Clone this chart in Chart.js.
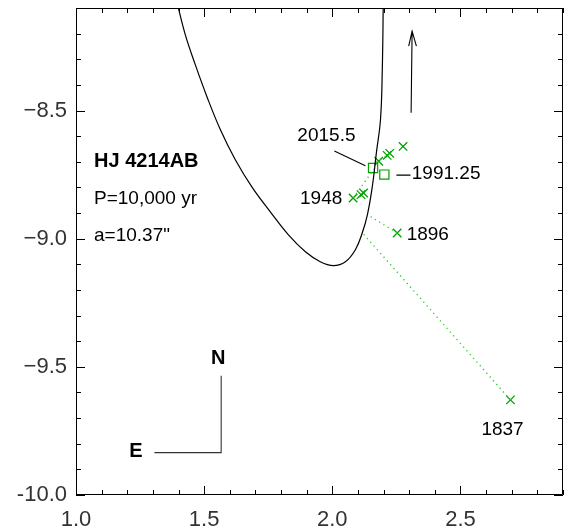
<!DOCTYPE html>
<html>
<head>
<meta charset="utf-8">
<script src="https://cdn.jsdelivr.net/npm/chart.js@4"></script>
<style>
  body { margin: 0; background: #fff; }
</style>
</head>
<body>
<canvas id="myChart" width="564" height="529"></canvas>
<script>
// tick labels
let xTickValues = [1.0, 1.5, 2.0, 2.5];
let xTickLabels = ['1.0', '1.5', '2.0', '2.5'];
let yTickValues = [-8.5, -9.0, -9.5, -10.0];
let yTickLabels = ['\u22128.5', '\u22129.0', '\u22129.5', '-10.0'];

// orbit
let orbitX = [1.391, 1.426, 1.465, 1.512, 1.563, 1.621, 1.688, 1.758, 1.828, 1.895, 1.953,
  2.004, 2.051, 2.090, 2.117, 2.137, 2.156, 2.172, 2.188, 2.195, 2.199];
let orbitY = [-8.066, -8.203, -8.320, -8.449, -8.574, -8.691, -8.801, -8.895, -8.984, -9.051, -9.090,
  -9.105, -9.090, -9.043, -8.977, -8.906, -8.797, -8.664, -8.535, -8.340, -8.066];

// visual measures (x marks)
let obsX = [2.695, 2.253, 2.081, 2.112, 2.122, 2.181, 2.214, 2.224, 2.276];
let obsY = [-9.629, -8.978, -8.841, -8.828, -8.822, -8.698, -8.675, -8.667, -8.640];

// speckle measures (squares)
let speckleX = [2.159, 2.203];
let speckleY = [-8.724, -8.750];

// residuals: measure -> orbit position
let residFromX = [2.695, 2.253, 2.081, 2.224];
let residFromY = [-9.629, -8.978, -8.841, -8.667];
let residToX = [2.117, 2.137, 2.163, 2.172];
let residToY = [-8.977, -8.906, -8.728, -8.700];

// motion arrow
let arrowX = [2.3074, 2.3113, null, 2.2980, 2.3113, 2.3281];
let arrowY = [-8.5090, -8.1902, null, -8.2488, -8.1902, -8.2488];

// N / E compass
let compassX = [1.3059, 1.5664, 1.5664];
let compassY = [-9.8348, -9.8348, -9.5352];

// leader lines for the year labels
let leaderX = [2.008, 2.129, null, 2.250, 2.305];
let leaderY = [-8.658, -8.715, null, -8.752, -8.752];

let green = '#00a000';

function toPoints(xs, ys) {
  let pts = [];
  for (let i = 0; i < xs.length; i++) {
    pts.push({ x: xs[i], y: ys[i] });
  }
  return pts;
}

function segments(x1, y1, x2, y2) {
  let pts = [];
  for (let i = 0; i < x1.length; i++) {
    pts.push({ x: x1[i], y: y1[i] });
    pts.push({ x: x2[i], y: y2[i] });
    pts.push({ x: x2[i], y: null });
  }
  return pts;
}

// text notes, placed in data units
let notes = [
  { text: 'HJ 4214AB', x: 1.0703, y: -8.700, align: 'left', bold: true },
  { text: 'P=10,000 yr', x: 1.0703, y: -8.846, align: 'left' },
  { text: 'a=10.37"', x: 1.0703, y: -8.990, align: 'left' },
  { text: '2015.5', x: 1.977, y: -8.598, align: 'center' },
  { text: '1991.25', x: 2.310, y: -8.747, align: 'left' },
  { text: '1948', x: 2.039, y: -8.844, align: 'right' },
  { text: '1896', x: 2.290, y: -8.984, align: 'left' },
  { text: '1837', x: 2.664, y: -9.746, align: 'center' },
  { text: 'N', x: 1.555, y: -9.469, align: 'center', bold: true },
  { text: 'E', x: 1.234, y: -9.832, align: 'center', bold: true }
];

function noPadding(scale) {
  scale.paddingTop = 0;
  scale.paddingBottom = 0;
  scale.paddingLeft = 0;
  scale.paddingRight = 0;
}

const frameTicks = {
  id: 'frameTicks',
  afterDraw(chart) {
    let ctx = chart.ctx;
    let a = chart.chartArea;
    let xs = chart.scales.x;
    let ys = chart.scales.y;
    ctx.save();
    ctx.strokeStyle = '#000';
    ctx.lineWidth = 1;
    ctx.beginPath();
    ctx.rect(a.left + 0.5, a.top + 0.5, a.right - a.left - 1, a.bottom - a.top - 1);
    for (let i = 0; i <= 19; i++) {
      let px = Math.round(xs.getPixelForValue(1.0 + i / 10)) + 0.5;
      let len = i % 5 === 0 ? 9 : 5;
      ctx.moveTo(px, a.bottom);
      ctx.lineTo(px, a.bottom - len);
      ctx.moveTo(px, a.top);
      ctx.lineTo(px, a.top + len);
    }
    for (let i = 0; i <= 19; i++) {
      let py = Math.round(ys.getPixelForValue(-10 + i / 10)) + 0.5;
      let len = i % 5 === 0 ? 9 : 5;
      ctx.moveTo(a.left, py);
      ctx.lineTo(a.left + len, py);
      ctx.moveTo(a.right, py);
      ctx.lineTo(a.right - len, py);
    }
    ctx.stroke();

    ctx.fillStyle = '#000';
    ctx.textBaseline = 'middle';
    for (let n of notes) {
      ctx.font = (n.bold ? 'bold 20px' : '19px') + ' "Liberation Sans", Arial, sans-serif';
      ctx.textAlign = n.align;
      ctx.fillText(n.text, xs.getPixelForValue(n.x), ys.getPixelForValue(n.y));
    }
    ctx.restore();
  }
};

const ctx = document.getElementById('myChart').getContext('2d');
const myChart = new Chart(ctx, {
  type: 'scatter',
  data: {
    datasets: [
      {
        data: toPoints(orbitX, orbitY),
        showLine: true,
        borderColor: '#000',
        borderWidth: 1.2,
        pointRadius: 0,
        tension: 0.4
      },
      {
        data: segments(residFromX, residFromY, residToX, residToY),
        showLine: true,
        spanGaps: false,
        borderColor: '#2ccc2c',
        borderWidth: 1.4,
        borderDash: [1.2, 3.8],
        pointRadius: 0
      },
      {
        data: toPoints(obsX, obsY),
        pointStyle: 'crossRot',
        pointRadius: 6,
        borderColor: green,
        borderWidth: 1.3
      },
      {
        data: toPoints(speckleX, speckleY),
        pointStyle: 'rect',
        pointRadius: 6.5,
        backgroundColor: 'rgba(0,0,0,0)',
        borderColor: green,
        borderWidth: 1.2
      },
      {
        data: toPoints(arrowX, arrowY),
        showLine: true,
        spanGaps: false,
        borderColor: '#000',
        borderWidth: 1.1,
        pointRadius: 0
      },
      {
        data: toPoints(compassX, compassY),
        showLine: true,
        borderColor: '#333',
        borderWidth: 1.1,
        pointRadius: 0
      },
      {
        data: toPoints(leaderX, leaderY),
        showLine: true,
        spanGaps: false,
        borderColor: '#000',
        borderWidth: 1.1,
        pointRadius: 0
      }
    ]
  },
  options: {
    responsive: false,
    animation: false,
    layout: { autoPadding: false, padding: { top: 8, right: 1, left: 0, bottom: 0 } },
    plugins: {
      legend: { display: false },
      tooltip: { enabled: false }
    },
    scales: {
      x: {
        type: 'linear',
        min: 1.0,
        max: 2.9,
        grid: { display: false, drawTicks: false },
        border: { display: false },
        afterBuildTicks: (scale) => { scale.ticks = xTickValues.map(v => ({ value: v })); },
        afterFit: (scale) => { scale.height = 34; noPadding(scale); },
        ticks: {
          padding: 12,
          maxRotation: 0,
          color: '#333',
          font: { family: '"Liberation Sans", Arial, sans-serif', size: 22 },
          callback: (value, index) => xTickLabels[index]
        }
      },
      y: {
        type: 'linear',
        min: -10.0,
        max: -8.1,
        grid: { display: false, drawTicks: false },
        border: { display: false },
        afterBuildTicks: (scale) => { scale.ticks = yTickValues.map(v => ({ value: v })); },
        afterFit: (scale) => { scale.width = 76; noPadding(scale); },
        ticks: {
          padding: 9,
          color: '#333',
          font: { family: '"Liberation Sans", Arial, sans-serif', size: 22 },
          callback: (value, index) => yTickLabels[index]
        }
      }
    }
  },
  plugins: [frameTicks]
});
</script>
</body>
</html>
